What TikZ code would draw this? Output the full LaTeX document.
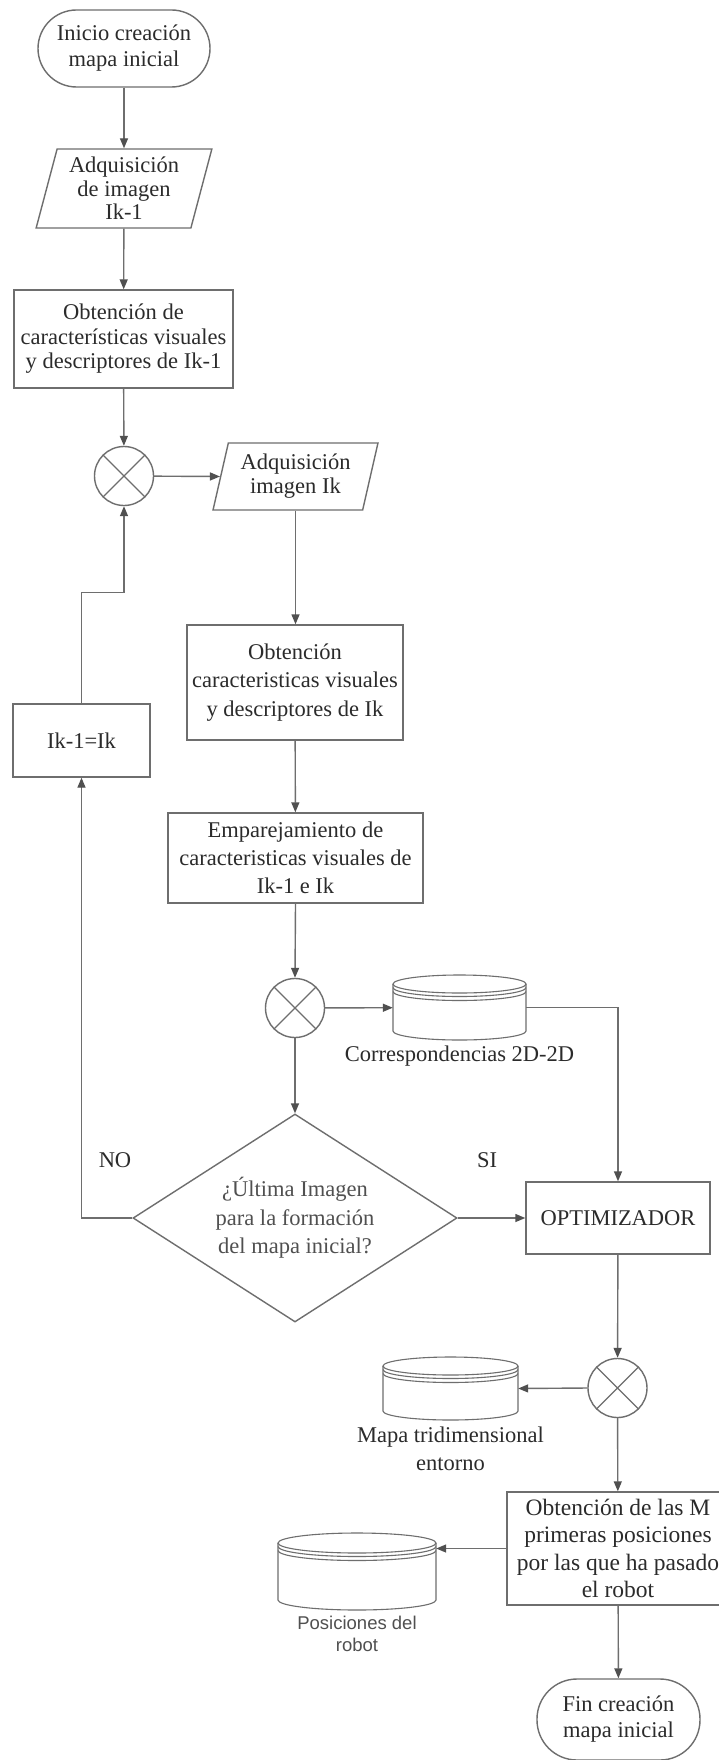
\documentclass[tikz,border=0pt]{standalone}
\usepackage{fontspec}
\setmainfont{Liberation Serif}
\newfontfamily\labelsans{Liberation Sans}
\usetikzlibrary{arrows.meta,shapes.geometric}

\definecolor{edgegray}{HTML}{6E6E6E}
\definecolor{tipgray}{HTML}{505050}
\definecolor{inkdark}{HTML}{2B2B2B}
\definecolor{inkmid}{HTML}{505050}

% Database drum: centre x, centre y, width, height, ellipse y-radius
\newcommand\dbcyl[5]{%
  \pgfmathsetmacro\cylL{#1-#3/2}%
  \pgfmathsetmacro\cylR{#1+#3/2}%
  \pgfmathsetmacro\cylT{#2-#4/2+#5}%
  \pgfmathsetmacro\cylB{#2+#4/2-#5}%
  \pgfmathsetmacro\cylRx{#3/2}%
  \draw[dbline, fill=white] (#1,\cylT) ellipse[x radius=\cylRx pt, y radius=#5 pt];
  \draw[dbline] (\cylL,\cylT+3.5) arc[start angle=180, end angle=360, x radius=\cylRx pt, y radius=#5 pt];
  \draw[dbline] (\cylL,\cylT+7.5) arc[start angle=180, end angle=360, x radius=\cylRx pt, y radius=#5 pt];
  \draw[dbline] (\cylL,\cylT) -- (\cylL,\cylB)
    arc[start angle=180, end angle=360, x radius=\cylRx pt, y radius=#5 pt]
    -- (\cylR,\cylT);
}

\begin{document}
\begin{tikzpicture}[x=1pt, y=-1pt,
  base/.style={draw=edgegray, line width=1.4pt, text=inkdark, align=center,
    font=\fontsize{22.5}{26}\selectfont, inner sep=2pt},
  proc/.style={base, rectangle},
  term/.style={base, rectangle, rounded corners=#1},
  iodata/.style={base, trapezium, trapezium left angle=75, trapezium right angle=105,
    trapezium stretches=true},
  junction/.style={base, circle, minimum size=59pt, inner sep=0pt},
  decision/.style={base, diamond, aspect=1.56, inner sep=0pt, text=inkmid,
    font=\fontsize{22.5}{28.5}\selectfont},
  flow/.style={draw=edgegray, line width=1.4pt,
    -{Triangle[length=10pt, width=8pt, color=tipgray]}},
  link/.style={draw=edgegray, line width=1.4pt},
  xmark/.style={draw=edgegray, line width=1.1pt},
  dbline/.style={draw=edgegray, line width=1.1pt},
  dbbox/.style={rectangle, inner sep=0pt},
  note/.style={text=inkdark, align=center, font=\fontsize{22.5}{28}\selectfont},
  sansnote/.style={text=inkmid, align=center, font=\labelsans\fontsize{18.5}{22}\selectfont}
]
\useasboundingbox (0,0) rectangle (718,1760);
\fill[white] (0,0) rectangle (718,1760);

% main column
\node[term=38.5pt, minimum width=172pt, minimum height=77pt] (start) at (124,48.5)
  {Inicio creación\\mapa inicial};
\node[iodata, minimum width=176pt, minimum height=79pt,
  font=\fontsize{22.5}{23.5}\selectfont] (img1) at (124,188.5)
  {Adquisición\\de imagen\\Ik-1};
\node[proc, minimum width=219pt, minimum height=98pt,
  font=\fontsize{22.5}{24.5}\selectfont] (feat1) at (123.5,339)
  {Obtención de\\características visuales\\y descriptores de Ik-1};
\node[junction] (j1) at (124,476) {};
\node[iodata, minimum width=165pt, minimum height=67pt,
  font=\fontsize{22.5}{24}\selectfont] (img2) at (295.5,476.5)
  {Adquisición\\imagen Ik};
\node[proc, minimum width=216pt, minimum height=115pt,
  font=\fontsize{22.5}{28.5}\selectfont] (feat2) at (295,682.5)
  {Obtención\\caracteristicas visuales\\y descriptores de Ik};
\node[proc, minimum width=137pt, minimum height=73pt] (swap) at (81.5,740.5) {Ik-1=Ik};
\node[proc, minimum width=255pt, minimum height=90pt,
  font=\fontsize{22.5}{28}\selectfont] (match) at (295.5,858)
  {Emparejamiento de\\caracteristicas visuales de\\Ik-1 e Ik};
\node[junction] (j2) at (295,1008) {};
\node[decision, minimum width=324pt, minimum height=208pt] (last) at (295,1218)
  {¿Última Imagen\\para la formación\\del mapa inicial?};
\node[proc, minimum width=184pt, minimum height=72pt] (opt) at (618,1218) {OPTIMIZADOR};
\node[junction] (j3) at (617.5,1388) {};
\node[proc, minimum width=222pt, minimum height=113pt,
  font=\fontsize{23.5}{27.5}\selectfont] (poses) at (618,1548.5)
  {Obtención de las M\\primeras posiciones\\por las que ha pasado\\el robot};
\node[term=40pt, minimum width=163pt, minimum height=81pt] (stop) at (618.5,1719.5)
  {Fin creación\\mapa inicial};

% data stores
\node[dbbox, minimum width=133pt, minimum height=65pt] (corr) at (459.5,1007.5) {};
\dbcyl{459.5}{1007.5}{133}{65}{9}
\node[note] (corrlbl) at (459.5,1056) {Correspondencias 2D-2D};

\node[dbbox, minimum width=135pt, minimum height=63pt] (map3d) at (450.5,1388.5) {};
\dbcyl{450.5}{1388.5}{135}{63}{9}
\node[note] (map3dlbl) at (450.5,1449) {Mapa tridimensional\\entorno};

\node[dbbox, minimum width=158pt, minimum height=77pt] (posdb) at (357,1571.5) {};
\dbcyl{357}{1571.5}{158}{77}{10}
\node[sansnote] (posdblbl) at (357,1634) {Posiciones del\\robot};

% crosses inside the junctions
\foreach \j in {j1,j2,j3} {
  \draw[xmark] (\j.north west) -- (\j.south east) (\j.north east) -- (\j.south west);
}

% branch labels
\node[note] (nolbl) at (115,1160) {NO};
\node[note] (silbl) at (487,1160) {SI};

% connectors
\draw[flow] (start) -- (img1);
\draw[flow] (img1) -- (feat1);
\draw[flow] (feat1) -- (j1);
\draw[flow] (j1) -- (img2.west);
\draw[flow] (img2.south) -- (img2.south |- feat2.north);
\draw[flow] (feat2) -- (match);
\draw[flow] (match.south) -- (j2.north);
\draw[flow] (j2) -- (corr);
\draw[flow] (j2) -- (last);
\draw[flow] (corr.east) -| (opt.north);
\draw[flow] (last.east) -- (opt.west);
\draw[flow] (last.west) -| (swap.south);
\draw[flow] (swap.north) -- ++(0,-111) -| (j1.south);
\draw[flow] (opt) -- (j3);
\draw[flow] (j3.west) -- (map3d.east);
\draw[flow] (j3) -- (poses);
\draw[flow] (poses.west) -- (poses.west -| posdb.east);
\draw[flow] (poses) -- (stop);
\end{tikzpicture}
\end{document}
